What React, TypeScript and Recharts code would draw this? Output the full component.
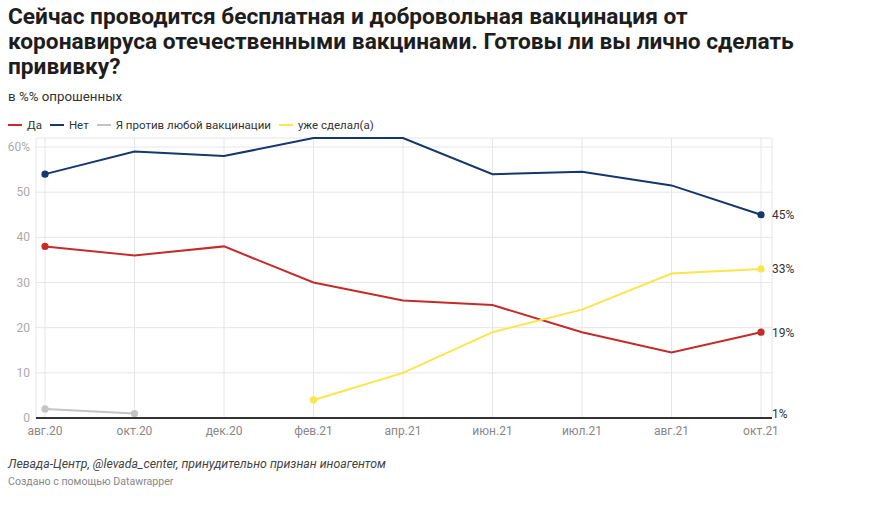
import React from 'react';
import { LineChart, Line, XAxis, YAxis, CartesianGrid, ReferenceLine, ReferenceDot } from 'recharts';

const categories = ['авг.20', 'окт.20', 'дек.20', 'фев.21', 'апр.21', 'июн.21', 'июл.21', 'авг.21', 'окт.21'];
const daValues = [38, 36, 38, 30, 26, 25, 19, 14.5, 19];
const netValues = [54, 59, 58, 62, 62, 54, 54.5, 51.5, 45];
const protivValues: (number | null)[] = [2, 1, null, null, null, null, null, null, null];
const sdelalValues: (number | null)[] = [null, null, null, 4, 10, 19, 24, 32, 33];
const yTicks = [0, 10, 20, 30, 40, 50, 60];

const series = [
  { key: 'da', name: 'Да', color: '#c42b2a', values: daValues, endLabel: '19%' },
  { key: 'net', name: 'Нет', color: '#15376b', values: netValues, endLabel: '45%' },
  { key: 'protiv', name: 'Я против любой вакцинации', color: '#c4c4c4', values: protivValues, endLabel: '' },
  { key: 'sdelal', name: 'уже сделал(а)', color: '#fbe54b', values: sdelalValues, endLabel: '33%' },
];

const data = categories.map((c, i) => {
  const row: Record<string, any> = { cat: c };
  series.forEach((s) => {
    row[s.key] = s.values[i];
  });
  return row;
});

const FONT = 'Roboto, "Noto Sans", sans-serif';

function makeDot(s: (typeof series)[number]) {
  const idx = s.values.map((v, i) => (v === null ? -1 : i)).filter((i) => i >= 0);
  const first = idx[0];
  const last = idx[idx.length - 1];
  return (props: any) => {
    const { cx, cy, index } = props;
    if ((index !== first && index !== last) || cx == null || cy == null) {
      return <g key={`d-${s.key}-${index}`} />;
    }
    return (
      <g key={`d-${s.key}-${index}`}>
        <circle cx={cx} cy={cy} r={3.6} fill={s.color} stroke="none" />
        {index === last && s.endLabel ? (
          <text x={cx + 11} y={cy + 4.5} fontSize={12} fill="#333" fontFamily={FONT}>
            {s.endLabel}
          </text>
        ) : null}
      </g>
    );
  };
}

const YTick = (props: any) => {
  const { y, payload } = props;
  return (
    <text x={30} y={y + 4} textAnchor="end" fontSize={12} fill="#aaaaaa" fontFamily={FONT}>
      {payload.value === 60 ? '60%' : payload.value}
    </text>
  );
};

const XTick = (props: any) => {
  const { x, y, payload } = props;
  return (
    <text x={x} y={y + 9} textAnchor="middle" fontSize={12} fill="#888888" fontFamily={FONT}>
      {payload.value}
    </text>
  );
};

export default function App() {
  return (
    <div style={{ position: 'relative', width: 888, height: 505, background: '#fff', fontFamily: FONT, color: '#222' }}>
      <style>{`body{margin:0;}`}</style>
      <div
        style={{
          position: 'absolute',
          left: 8,
          top: 4,
          width: 870,
          fontSize: 22.7,
          fontWeight: 700,
          lineHeight: '25px',
          color: '#1d1d1d',
          whiteSpace: 'nowrap',
        }}
      >
        Сейчас проводится бесплатная и добровольная вакцинация от
        <br />
        коронавируса отечественными вакцинами. Готовы ли вы лично сделать
        <br />
        прививку?
      </div>
      <div style={{ position: 'absolute', left: 8, top: 89, fontSize: 13.3, color: '#333' }}>в %% опрошенных</div>
      <div
        style={{
          position: 'absolute',
          left: 8,
          top: 118,
          display: 'flex',
          alignItems: 'center',
          fontSize: 11.5,
          color: '#333',
        }}
      >
        {series.map((s) => (
          <div key={s.key} style={{ display: 'flex', alignItems: 'center', marginRight: 8 }}>
            <span style={{ display: 'inline-block', width: 14, height: 2, background: s.color, marginRight: 5 }} />
            <span>{s.name}</span>
          </div>
        ))}
      </div>
      <div style={{ position: 'absolute', left: 0, top: 0 }}>
        <LineChart width={888} height={505} data={data} margin={{ top: 138, right: 116, bottom: 67, left: 0 }}>
          <CartesianGrid stroke="#e6e6e6" strokeWidth={1} />
          <XAxis
            dataKey="cat"
            type="category"
            axisLine={false}
            tickLine={false}
            padding={{ left: 9, right: 11 }}
            height={20}
            interval={0}
            tick={<XTick />}
          />
          <YAxis
            domain={[0, 62]}
            ticks={yTicks}
            width={36}
            axisLine={false}
            tickLine={false}
            tick={<YTick />}
            interval={0}
          />
          <ReferenceLine y={0} stroke="#333" strokeWidth={2} />
          {series.map((s) => (
            <Line
              key={s.key}
              type="linear"
              dataKey={s.key}
              name={s.name}
              stroke={s.color}
              strokeWidth={2}
              dot={makeDot(s)}
              activeDot={false}
              isAnimationActive={false}
            />
          ))}
          <ReferenceDot
            x="окт.21"
            y={protivValues[1] as number}
            r={0}
            shape={(p: any) => (
              <text x={p.cx + 11} y={p.cy + 4.5} fontSize={12} fill="#333" fontFamily={FONT}>
                1%
              </text>
            )}
          />
        </LineChart>
      </div>
      <div style={{ position: 'absolute', left: 8, top: 457, fontSize: 12.3, fontStyle: 'italic', color: '#444' }}>
        Левада-Центр, @levada_center, принудительно признан иноагентом
      </div>
      <div style={{ position: 'absolute', left: 8, top: 475, fontSize: 10.6, color: '#888' }}>
        Создано с помощью Datawrapper
      </div>
    </div>
  );
}
